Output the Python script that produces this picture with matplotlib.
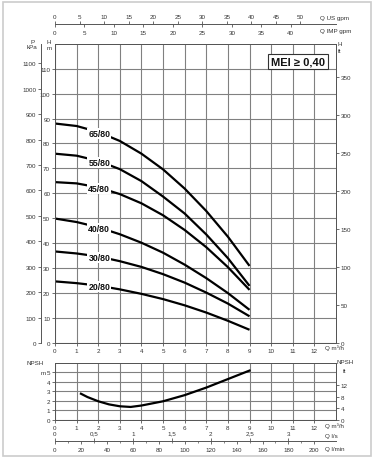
import numpy as np
import matplotlib
matplotlib.use('Agg')
import matplotlib.pyplot as plt
from matplotlib.patches import Rectangle

plt.rcParams['font.family'] = ['Liberation Sans', 'DejaVu Sans']

# Flow (m3/h) and head (m)
q = [0, 1, 2, 3, 4, 5, 6, 7, 8, 9]
h_65_80 = [88.0, 87.0, 84.6, 81.0, 75.9, 69.6, 61.9, 52.9, 42.6, 30.9]
h_55_80 = [75.9, 75.1, 73.0, 69.7, 64.9, 58.7, 51.9, 43.5, 34.0, 22.9]
h_45_80 = [64.5, 64.0, 62.4, 59.7, 56.0, 51.2, 45.3, 38.4, 30.4, 21.3]
h_40_80 = [49.9, 48.5, 46.4, 43.6, 40.2, 36.2, 31.4, 26.0, 20.0, 13.3]
h_30_80 = [36.7, 35.9, 34.7, 32.8, 30.5, 27.6, 24.2, 20.2, 15.8, 10.7]
h_20_80 = [24.7, 24.0, 23.0, 21.5, 19.7, 17.6, 15.1, 12.2, 8.9, 5.3]
models = ['65/80', '55/80', '45/80', '40/80', '30/80', '20/80']
heads = [h_65_80, h_55_80, h_45_80, h_40_80, h_30_80, h_20_80]

# NPSH curve
q_npsh = [1.2, 1.5, 2, 2.5, 3, 3.5, 4, 5, 6, 7, 8, 9]
npsh = [2.75, 2.4, 1.95, 1.62, 1.42, 1.35, 1.5, 1.95, 2.6, 3.4, 4.3, 5.2]

# secondary flow scales
us_gpm = [0, 5, 10, 15, 20, 25, 30, 35, 40, 45, 50]
imp_gpm = [0, 5, 10, 15, 20, 25, 30, 35, 40]
l_s = [0, 0.5, 1, 1.5, 2, 2.5, 3]
l_s_labels = ['0', '0,5', '1', '1,5', '2', '2,5', '3']
l_min = [0, 20, 40, 60, 80, 100, 120, 140, 160, 180, 200]

W, H = 373, 464
TXT = '#333333'
GRID = '#808080'
SPINE = '#555555'
FS = 4.5


def rect(x0, y0, x1, y1):
    return [x0 / W, 1 - y1 / H, (x1 - x0) / W, (y1 - y0) / H]


def ftext(x, y, s, **kw):
    kw.setdefault('fontsize', FS)
    kw.setdefault('color', TXT)
    kw.setdefault('ha', 'center')
    kw.setdefault('va', 'center')
    fig.text(x / W, 1 - y / H, s, **kw)


def style(a):
    for s in a.spines.values():
        s.set_color(SPINE)
        s.set_linewidth(0.7)
    a.tick_params(length=2, width=0.6, labelsize=FS, pad=1.5, colors=SPINE, labelcolor=TXT)


fig = plt.figure(figsize=(W / 100, H / 100), dpi=100)

# ---- main head chart
ax = fig.add_axes(rect(55, 44.7, 336, 344))
ax.set_xlim(0, 13)
ax.set_ylim(0, 120)
ax.set_xticks(range(13))
ax.set_yticks(range(0, 111, 10))
ax.grid(True, color=GRID, lw=0.8)
style(ax)
for name, hh in zip(models, heads):
    ax.plot(q, hh, color='black', lw=1.6, solid_capstyle='butt', zorder=3)
    ax.text(2.05, np.interp(2.05, q, hh) - 0.4, name, ha='center', va='center',
            fontsize=6.3, fontweight='bold', color='#111111', zorder=4,
            bbox=dict(fc='white', ec='none', pad=0.8))
ax.text(11.25, 112.9, 'MEI \u2265 0,40', ha='center', va='center', fontsize=8,
        fontweight='bold', color='#111111', zorder=5,
        bbox=dict(boxstyle='square,pad=0.25', fc='white', ec='#333333', lw=0.8))

axr = ax.twinx()
axr.set_ylim(0, 120 / 0.3048)
axr.set_yticks(range(0, 351, 50))
style(axr)

axk = fig.add_axes(rect(41, 44.7, 41.05, 344))
axk.set_ylim(0, 120 * 9.81)
axk.set_yticks(range(0, 1101, 100))
axk.set_xticks([])
axk.patch.set_visible(False)
for s in ['top', 'right', 'bottom']:
    axk.spines[s].set_visible(False)
style(axk)

ftext(33, 43, 'P')
ftext(32, 47.5, 'kPa')
ftext(49, 43, 'H')
ftext(49, 49, 'm')
ftext(340, 45, 'H')
ftext(340, 51.5, 'ft')
ftext(334, 348.5, 'Q m\u00b3/h')

# ---- NPSH chart
axn = fig.add_axes(rect(55, 364, 336, 420.7))
axn.set_xlim(0, 13)
axn.set_ylim(0, 6)
axn.set_xticks(range(13))
axn.set_yticks(range(6))
axn.grid(True, color=GRID, lw=0.8)
style(axn)
axn.plot(q_npsh, npsh, color='black', lw=1.6, zorder=3)

axnr = axn.twinx()
axnr.set_ylim(0, 6 / 0.3048)
axnr.set_yticks([0, 4, 8, 12])
style(axnr)

ftext(35, 364, 'NPSH')
ftext(43, 374, 'm')
ftext(345, 363, 'NPSH')
ftext(345, 372, 'ft')
ftext(334, 426, 'Q m\u00b3/h')

# ---- bottom flow scales (l/s above, l/min below)
axb = fig.add_axes(rect(55, 441.6, 336, 441.7))
axb.set_xlim(0, 13)
axb.set_yticks([])
axb.patch.set_visible(False)
for s in ['top', 'left', 'right']:
    axb.spines[s].set_visible(False)
axb.set_xticks([v * 0.06 for v in l_min], [str(v) for v in l_min])
axb.set_xticks([v * 0.06 for v in range(10, 200, 20)], minor=True)
style(axb)
axb.tick_params(which='minor', length=1.5, width=0.5, colors=SPINE)
axb.tick_params(pad=2.5)
sb = axb.secondary_xaxis('top')
sb.set_xticks([v * 3.6 for v in l_s], l_s_labels)
style(sb)
sb.spines['top'].set_visible(False)
ftext(325, 437, 'Q l/s', ha='left')
ftext(325, 449.5, 'Q l/min', ha='left')

# ---- top flow scales (US gpm above, IMP gpm below)
axt = fig.add_axes(rect(55, 24.9, 336, 25))
axt.set_xlim(0, 13)
axt.set_yticks([])
axt.patch.set_visible(False)
for s in ['top', 'left', 'right']:
    axt.spines[s].set_visible(False)
axt.set_xticks([v * 0.2728 for v in imp_gpm], [str(v) for v in imp_gpm])
style(axt)
axt.tick_params(pad=2.5)
st = axt.secondary_xaxis('top')
st.set_xticks([v * 0.2271 for v in us_gpm], [str(v) for v in us_gpm])
style(st)
st.spines['top'].set_visible(False)
ftext(320, 18.3, 'Q US gpm', ha='left')
ftext(320, 31, 'Q IMP gpm', ha='left')

# light frame around the sheet
fig.add_artist(Rectangle((3 / W, 1 - 457 / H), 368 / W, 454 / H, transform=fig.transFigure,
                         fill=False, ec='#cccccc', lw=1.2))

fig.savefig('out.png', dpi=100)
